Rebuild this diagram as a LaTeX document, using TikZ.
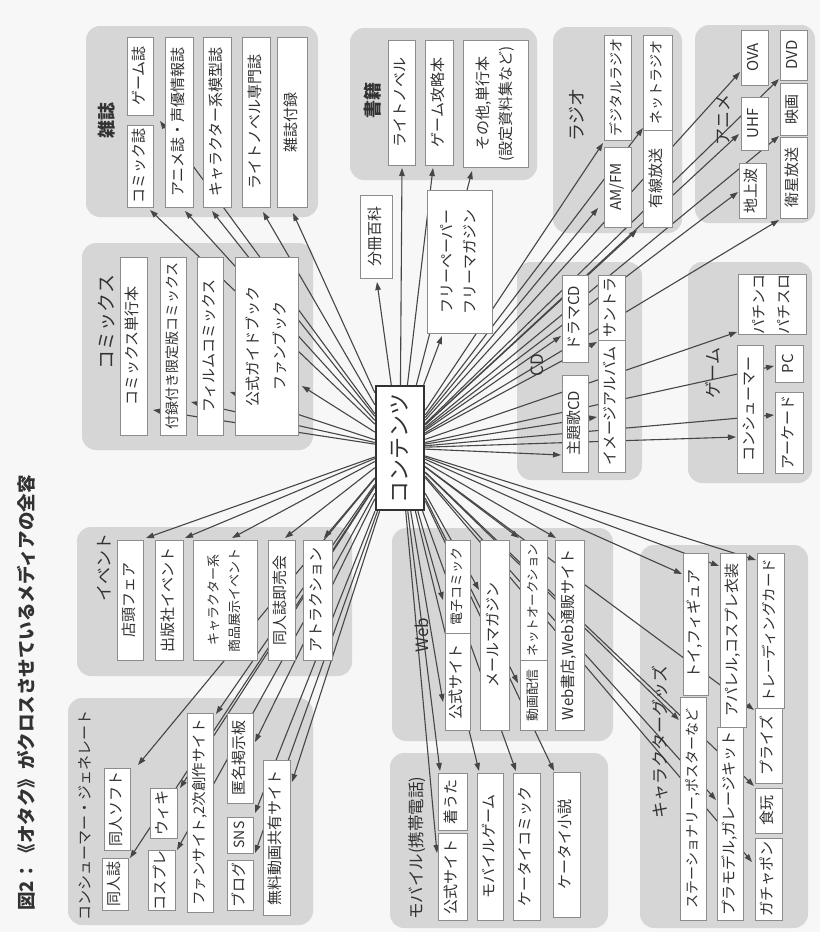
\documentclass[tikz,border=0pt]{standalone}
\usepackage{fontspec}
\setmainfont{Noto Sans CJK JP}
\usepackage{graphicx}
\usetikzlibrary{arrows.meta}
\definecolor{paper}{RGB}{247,247,247}
\definecolor{grpgray}{RGB}{214,214,214}
\definecolor{ink}{RGB}{50,50,50}
\definecolor{arrink}{RGB}{70,70,70}
\definecolor{boxline}{RGB}{140,140,140}
\newcommand\rotx[1]{\rotatebox{90}{\begin{tabular}{@{}c@{}}#1\end{tabular}}}
\newcommand\mkbox[8]{\node[wbox,minimum width={(#4-#2)*1pt},minimum height={(#5-#3)*1pt},font=\fontsize{#6}{#7}\selectfont] (#1) at ({(#2+#4)/2},{(#3+#5)/2}) {\rotx{#8}};}
\newcommand\grptitle[5]{\node[gtitle,font=\fontsize{#4}{#4}\selectfont] (#1) at (#2,#3) {\rotatebox{90}{#5}};}
\begin{document}
\begin{tikzpicture}[x=1pt,y=-1pt,
  wbox/.style={rectangle,draw=boxline,line width=0.7pt,fill=white,inner sep=0pt,text=ink},
  grp/.style={fill=grpgray,rounded corners=14pt},
  gtitle/.style={inner sep=1pt,text=ink},
  arr/.style={draw=arrink,line width=1.1pt,-{Triangle[length=8pt,width=5.5pt]}},
  hubbox/.style={rectangle,draw=ink,line width=2.4pt,fill=white,inner sep=0pt,minimum width=48pt,minimum height=124pt,text=ink,font=\fontsize{22}{24}\selectfont}]
\useasboundingbox (0,0) rectangle (820,932);
\fill[paper] (0,0) rectangle (820,932);
% groups
\path[grp] (86,26) rectangle (318,217);
\path[grp] (350,28) rectangle (537,180);
\path[grp] (553,27) rectangle (682,233);
\path[grp] (695,25) rectangle (815,223);
\path[grp] (82,243) rectangle (313,450);
\path[grp] (517,262) rectangle (642,480);
\path[grp] (688,262) rectangle (812,483);
\path[grp] (77,527) rectangle (352,676);
\path[grp] (392,528) rectangle (613,741);
\path[grp] (640,545) rectangle (808,928);
\path[grp] (68,698) rectangle (313,925);
\path[grp] (390,753) rectangle (608,928);
% hub
\node[hubbox] (hub) at (400,448) {\rotatebox{90}{コンテンツ}};
% arrow targets
\foreach \n/\x/\y in {1/150/210,2/160/121,3/185/211,4/212/211,5/263/212,6/293/213,
  7/153/410,8/191/402,9/230/392,10/302/386,
  11/377/282,12/402/168,13/433/168,14/472/171,15/442/336,
  16/603/143,17/598/208,18/643/128,19/637/230,
  20/740/72,21/739/134,22/779/79,23/738/192,24/779/136,25/779/220,
  26/561/336,27/597/342,28/561/455,29/597/417,
  30/737/332,31/774/366,32/736/437,33/774/415,
  34/443/600,35/443/702,36/479/590,37/518/683,38/519/538,39/556/538,
  40/437/853,41/440/771,42/479/771,43/516/771,44/554/771,
  45/682/574,46/719/566,47/756/560,48/679/720,49/716/800,50/754/710,51/754/786,52/752/862,
  53/146/538,54/185/538,55/232/538,56/285/538,57/324/538,
  58/138/765,59/130/858,60/180/788,61/177/850,62/216/714,63/255/742,64/255/813,65/255/853,66/292/782}
  \coordinate (t\n) at (\x,\y);
\foreach \n in {1,...,66} \draw[arr] (hub) -- (t\n);
% magazines
\mkbox{zs1}{127}{125}{153}{207}{15}{20}{コミック誌}
\mkbox{zs2}{127}{37}{153}{115}{15}{20}{ゲーム誌}
\mkbox{zs3}{165}{37}{193}{207}{15}{20}{アニメ誌・声優情報誌}
\mkbox{zs4}{203}{37}{231}{207}{15}{20}{キャラクター系模型誌}
\mkbox{zs5}{242}{37}{270}{207}{15}{20}{ライトノベル専門誌}
\mkbox{zs6}{277}{37}{307}{207}{15}{20}{雑誌付録}
% books
\mkbox{sk1}{388}{40}{415}{165}{15}{20}{ライトノベル}
\mkbox{sk2}{425}{40}{453}{165}{15}{20}{ゲーム攻略本}
\mkbox{sk3}{463}{40}{528}{167}{15}{23}{その他,単行本\\(設定資料集など)}
\mkbox{bs}{360}{195}{392}{278}{15}{20}{分冊百科}
\mkbox{fp}{427}{190}{492}{333}{15}{23}{フリーペーパー\\フリーマガジン}
% radio
\mkbox{rd1}{604}{147}{631}{227}{15}{20}{AM/FM}
\mkbox{rd2}{604}{35}{631}{140}{14}{20}{デジタルラジオ}
\mkbox{rd3}{643}{35}{672}{130}{14}{20}{ネットラジオ}
\mkbox{rd4}{643}{130}{672}{227}{15}{20}{有線放送}
% anime
\mkbox{an1}{741}{30}{768}{85}{15}{20}{OVA}
\mkbox{an2}{741}{97}{768}{150}{15}{20}{UHF}
\mkbox{an3}{739}{163}{766}{218}{15}{20}{地上波}
\mkbox{an4}{780}{30}{807}{80}{15}{20}{DVD}
\mkbox{an5}{780}{83}{807}{135}{15}{20}{映画}
\mkbox{an6}{780}{137}{807}{218}{15}{20}{衛星放送}
% comics
\mkbox{cm1}{120}{257}{147}{435}{15}{20}{コミックス単行本}
\mkbox{cm2}{160}{257}{186}{435}{14}{20}{付録付き限定版コミックス}
\mkbox{cm3}{197}{257}{223}{435}{15}{20}{フィルムコミックス}
\mkbox{cm4}{235}{257}{298}{435}{15}{27}{公式ガイドブック\\ファンブック}
% CD
\mkbox{cd1}{562}{275}{588}{362}{15}{20}{ドラマCD}
\mkbox{cd2}{562}{375}{588}{472}{15}{20}{主題歌CD}
\mkbox{cd3}{598}{275}{625}{340}{15}{20}{サントラ}
\mkbox{cd4}{598}{340}{625}{472}{15}{20}{イメージアルバム}
% game
\mkbox{gm1}{738}{275}{806}{333}{15}{25}{パチンコ\\パチスロ}
\mkbox{gm2}{737}{345}{763}{473}{15}{20}{コンシューマー}
\mkbox{gm3}{775}{345}{803}{382}{15}{20}{PC}
\mkbox{gm4}{775}{392}{803}{473}{15}{20}{アーケード}
% event
\mkbox{ev1}{117}{540}{143}{660}{15}{20}{店頭フェア}
\mkbox{ev2}{155}{540}{183}{660}{15}{20}{出版社イベント}
\mkbox{ev3}{193}{540}{257}{660}{13}{21}{キャラクター系\\商品展示イベント}
\mkbox{ev4}{268}{540}{295}{660}{15}{20}{同人誌即売会}
\mkbox{ev5}{303}{540}{332}{660}{15}{20}{アトラクション}
% web
\mkbox{wb1}{445}{540}{470}{633}{13}{20}{電子コミック}
\mkbox{wb2}{445}{633}{470}{730}{15}{20}{公式サイト}
\mkbox{wb3}{480}{540}{509}{730}{15}{20}{メールマガジン}
\mkbox{wb4}{520}{540}{547}{660}{12.5}{20}{ネットオークション}
\mkbox{wb5}{520}{660}{547}{730}{13}{20}{動画配信}
\mkbox{wb6}{555}{540}{584}{730}{15}{20}{Web書店,Web通販サイト}
% consumer generated
\mkbox{cg1}{102}{858}{128}{910}{15}{20}{同人誌}
\mkbox{cg2}{104}{768}{130}{850}{15}{20}{同人ソフト}
\mkbox{cg3}{148}{850}{175}{910}{15}{20}{コスプレ}
\mkbox{cg4}{150}{788}{177}{838}{15}{20}{ウィキ}
\mkbox{cg5}{187}{713}{213}{912}{14.5}{20}{ファンサイト,2次創作サイト}
\mkbox{cg6}{227}{860}{253}{910}{15}{20}{ブログ}
\mkbox{cg7}{227}{817}{253}{853}{14}{20}{SNS}
\mkbox{cg8}{227}{713}{253}{803}{15}{20}{匿名掲示板}
\mkbox{cg9}{263}{760}{290}{915}{15}{20}{無料動画共有サイト}
% mobile
\mkbox{mb1}{438}{833}{467}{920}{15}{20}{公式サイト}
\mkbox{mb2}{438}{773}{467}{830}{15}{20}{着うた}
\mkbox{mb3}{477}{773}{503}{920}{15}{20}{モバイルゲーム}
\mkbox{mb4}{513}{773}{540}{920}{15}{20}{ケータイコミック}
\mkbox{mb5}{553}{772}{580}{917}{15}{20}{ケータイ小説}
% character goods
\mkbox{cq1}{683}{553}{708}{695}{15}{20}{トイ,フィギュア}
\mkbox{cq2}{680}{697}{706}{920}{14}{20}{ステーショナリー,ポスターなど}
\mkbox{cq3}{720}{553}{746}{727}{15}{20}{アパレル,コスプレ衣装}
\mkbox{cq4}{717}{727}{743}{920}{15}{20}{プラモデル,ガレージキット}
\mkbox{cq5}{757}{553}{784}{708}{14.5}{20}{トレーディングカード}
\mkbox{cq6}{755}{708}{782}{783}{15}{20}{プライズ}
\mkbox{cq7}{755}{788}{782}{833}{15}{20}{食玩}
\mkbox{cq8}{755}{838}{782}{920}{15}{20}{ガチャポン}
% group titles
\grptitle{lzs}{107}{120}{18}{\bfseries 雑誌}
\grptitle{lsk}{373}{100}{18}{\bfseries 書籍}
\grptitle{lrd}{577}{115}{18}{ラジオ}
\grptitle{lan}{723}{120}{17}{アニメ}
\grptitle{lcm}{107}{322}{19}{コミックス}
\grptitle{lcd}{537}{365}{17}{CD}
\grptitle{lgm}{713}{373}{17}{ゲーム}
\grptitle{lev}{104}{567}{17}{イベント}
\grptitle{lwb}{422}{635}{17}{Web}
\grptitle{lcg}{85}{815}{15}{コンシューマー・ジェネレート}
\grptitle{lmb}{417}{848}{16.5}{モバイル(携帯電話)}
\grptitle{lcq}{660}{742}{17}{キャラクターグッズ}
% title
\node[inner sep=0pt,text=ink,font=\fontsize{18.5}{20}\selectfont\bfseries] (title) at (26,693) {\rotatebox{90}{図2：《オタク》がクロスさせているメディアの全容}};
\end{tikzpicture}
\end{document}
